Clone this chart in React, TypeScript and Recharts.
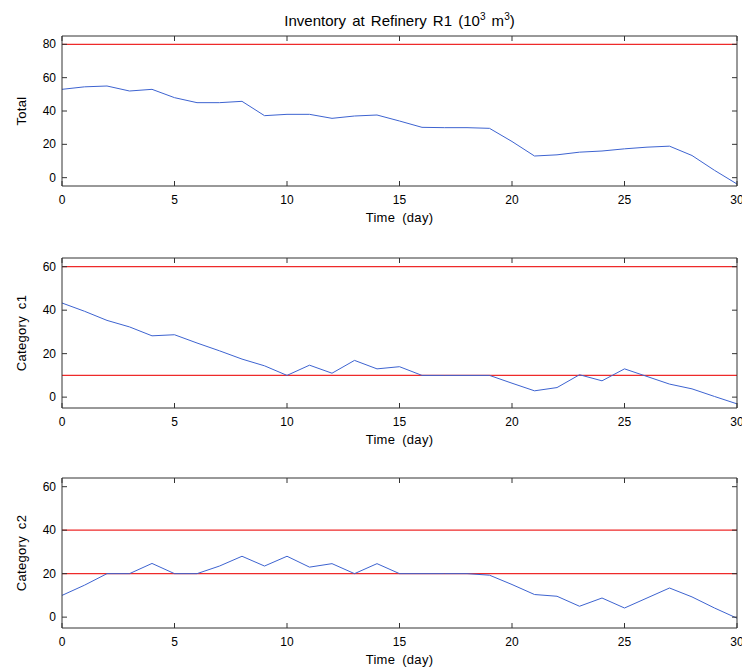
import React from "react"
import { Line, LineChart, ReferenceLine, XAxis, YAxis, Label } from "recharts"

const days = [0, 1, 2, 3, 4, 5, 6, 7, 8, 9, 10, 11, 12, 13, 14, 15, 16, 17, 18, 19, 20, 21, 22, 23, 24, 25, 26, 27, 28, 29, 30]
const total = [53, 54.5, 55, 52, 53, 48, 45, 45, 45.8, 37.2, 38, 38, 35.6, 37, 37.6, 34, 30.2, 30, 30, 29.6, 21.7, 13, 13.7, 15.3, 16, 17.3, 18.3, 18.9, 13.3, 4.4, -3.8]
const c1 = [43.3, 39.5, 35.3, 32.3, 28.2, 28.7, 24.9, 21.3, 17.5, 14.4, 10, 14.7, 11, 16.9, 13, 14, 10, 10, 10, 10, 6.4, 2.9, 4.4, 10.3, 7.5, 13, 9.5, 6, 3.8, 0.3, -3.1]
const c2 = [10, 14.7, 20, 20, 24.7, 20, 20, 23.5, 28, 23.5, 28, 23, 24.6, 20, 24.6, 20, 20, 20, 20, 19.3, 15, 10.4, 9.6, 5, 8.8, 4.2, 8.8, 13.4, 9.3, 4.2, -0.5]

const totalLimits = [80]
const c1Limits = [60, 10]
const c2Limits = [40, 20]

const xTicks = [0, 5, 10, 15, 20, 25, 30]
const totalTicks = [0, 20, 40, 60, 80]
const catTicks = [0, 20, 40, 60]

const FONT = "'Liberation Sans', Arial, sans-serif"
const BLUE = "#3d63d0"
const RED = "#ee2a2a"
const AXIS = "#333"

// plot box inside each chart
const MT = 10
const PLOT_H = 150
const LEFT = 62
const RIGHT = 737

interface PanelProps {
    values: number[]
    label: string
    domain: [number, number]
    yTicks: number[]
    limits: number[]
    top: number
}

const textStyle = { fontSize: 12, fill: "#000", fontFamily: FONT }
const labelStyle = { fontSize: 13, fill: "#000", fontFamily: FONT, wordSpacing: 3, letterSpacing: 0.3 }

const Panel = ({ values, label, domain, yTicks, limits, top }: PanelProps) => {
    const data = days.map((d, i) => ({ day: d, v: values[i] }))
    const bottom = MT + PLOT_H
    return (
        <div style={{ position: "absolute", left: 0, top: top - MT }}>
            <LineChart
                data={data}
                width={742}
                height={MT + PLOT_H + 40 + 6}
                margin={{ top: MT - 1, right: 4, left: 0, bottom: 6 }}
            >
                <XAxis
                    dataKey="day"
                    type="number"
                    domain={[0, 30]}
                    ticks={xTicks}
                    interval={0}
                    tickLine={false}
                    height={40}
                    stroke={AXIS}
                    tick={(p: any) => (
                        <g>
                            <line x1={p.x} x2={p.x} y1={bottom} y2={bottom - 5} stroke={AXIS} />
                            <text x={p.x} y={bottom + 14} textAnchor="middle" dominantBaseline="central" style={textStyle}>
                                {p.payload.value}
                            </text>
                        </g>
                    )}
                >
                    <Label value="Time (day)" position="insideBottom" offset={4} style={labelStyle} />
                </XAxis>
                <XAxis
                    xAxisId="top"
                    orientation="top"
                    dataKey="day"
                    type="number"
                    domain={[0, 30]}
                    ticks={xTicks}
                    interval={0}
                    tickLine={false}
                    height={1}
                    stroke={AXIS}
                    tick={(p: any) => (
                        <line x1={p.x} x2={p.x} y1={MT} y2={MT + 5} stroke={AXIS} />
                    )}
                />
                <YAxis
                    type="number"
                    domain={domain}
                    ticks={yTicks}
                    interval={0}
                    allowDataOverflow
                    width={LEFT}
                    tickLine={false}
                    stroke={AXIS}
                    tick={(p: any) => (
                        <g>
                            <line x1={LEFT} x2={LEFT + 5} y1={p.y} y2={p.y} stroke={AXIS} />
                            <text x={LEFT - 6} y={p.y} textAnchor="end" dominantBaseline="central" style={textStyle}>
                                {p.payload.value}
                            </text>
                        </g>
                    )}
                >
                    <Label
                        content={(props: any) => {
                            const vb = props.viewBox || {}
                            const cx = 21
                            const cy = (vb.y || 0) + (vb.height || 0) / 2
                            return (
                                <text
                                    x={cx}
                                    y={cy}
                                    textAnchor="middle"
                                    dominantBaseline="central"
                                    transform={`rotate(-90, ${cx}, ${cy})`}
                                    style={labelStyle}
                                >
                                    {label}
                                </text>
                            )
                        }}
                    />
                </YAxis>
                <YAxis
                    yAxisId="right"
                    orientation="right"
                    type="number"
                    domain={domain}
                    ticks={yTicks}
                    interval={0}
                    allowDataOverflow
                    width={1}
                    tickLine={false}
                    stroke={AXIS}
                    tick={(p: any) => (
                        <line x1={RIGHT} x2={RIGHT - 5} y1={p.y} y2={p.y} stroke={AXIS} />
                    )}
                />
                {limits.map((l) => (
                    <ReferenceLine key={l} y={l} stroke={RED} strokeWidth={1.3} />
                ))}
                <Line
                    dataKey="v"
                    stroke={BLUE}
                    strokeWidth={1}
                    dot={false}
                    isAnimationActive={false}
                />
            </LineChart>
        </div>
    )
}

export default function App() {
    return (
        <div
            style={{
                position: "absolute",
                left: 0,
                top: 0,
                width: 742,
                height: 672,
                background: "#fff",
                overflow: "hidden",
                fontFamily: FONT,
            }}
        >
            <div
                style={{
                    position: "absolute",
                    top: 7,
                    left: 0,
                    width: 799,
                    textAlign: "center",
                    fontSize: 15,
                    wordSpacing: 2,
                    color: "#000",
                    lineHeight: "20px",
                }}
            >
                Inventory at Refinery R1 (10<sup style={{ fontSize: 10 }}>3</sup> m<sup style={{ fontSize: 10 }}>3</sup>)
            </div>
            <Panel values={total} label="Total" domain={[-5, 85]} yTicks={totalTicks} limits={totalLimits} top={36} />
            <Panel values={c1} label="Category c1" domain={[-5, 64]} yTicks={catTicks} limits={c1Limits} top={258} />
            <Panel values={c2} label="Category c2" domain={[-5, 64]} yTicks={catTicks} limits={c2Limits} top={478} />
        </div>
    )
}
